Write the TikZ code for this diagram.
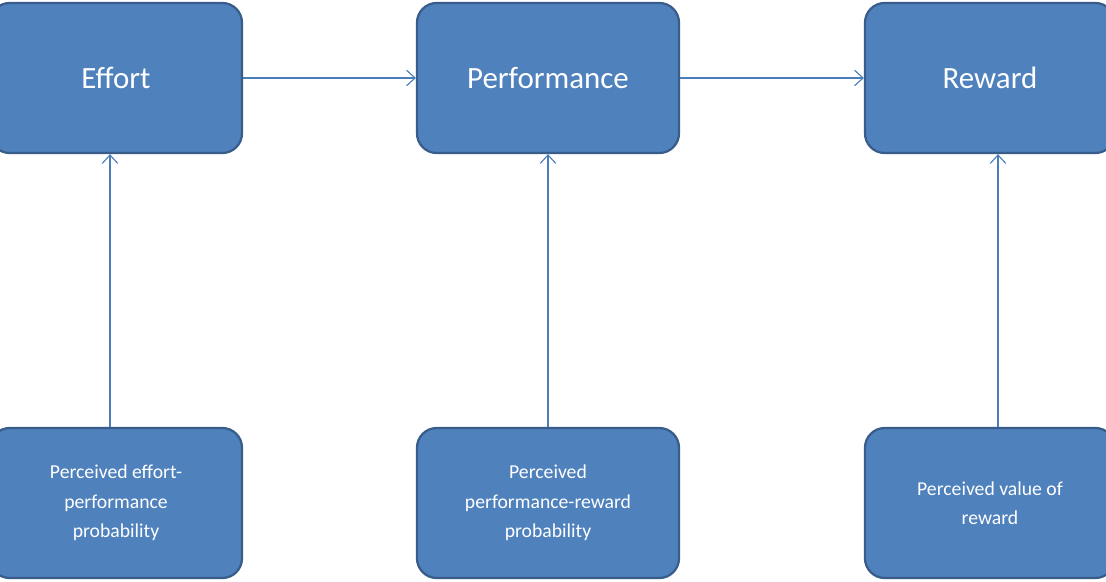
\documentclass[tikz,border=0pt]{standalone}
\usepackage{fontspec}
\setmainfont{Carlito}
\usetikzlibrary{arrows.meta}
\definecolor{boxfill}{HTML}{4F81BD}
\definecolor{boxline}{HTML}{385D8A}
\definecolor{arrowline}{HTML}{4A7EBB}
\begin{document}
\begin{tikzpicture}[x=0.025cm, y=-0.025cm,
  box/.style = {draw=boxline, line width=1.6pt, fill=boxfill, rounded corners=14pt,
                text=white, minimum height=150*0.025cm, align=center},
  big/.style = {box, font=\fontsize{22}{26}\selectfont},
  small/.style = {box, font=\fontsize{14}{21}\selectfont},
  link/.style = {draw=arrowline, line width=0.8pt, -{Straight Barb[length=6pt,width=11pt]}}]
\useasboundingbox (0,0) rectangle (1106,581);
\clip (0,0) rectangle (1106,581);
% top row
\node [big, minimum width=252*0.025cm] (effort) at (116,78) {Effort};
\node [big, minimum width=262*0.025cm] (perf) at (548,78) {Performance};
\node [big, minimum width=250*0.025cm] (reward) at (990,78) {Reward};
% bottom row
\node [small, minimum width=252*0.025cm] (pep) at (116,503) {Perceived effort-\\performance\\probability};
\node [small, minimum width=262*0.025cm] (ppr) at (548,503) {Perceived\\performance-reward\\probability};
\node [small, minimum width=250*0.025cm] (pvr) at (990,503) {Perceived value of\\reward};
% arrows
\draw [link] (effort.east) -- (perf.west);
\draw [link] (perf.east) -- (reward.west);
\draw [link] (pep.north -| 110,0) -- (effort.south -| 110,0);
\draw [link] (ppr.north) -- (perf.south);
\draw [link] (pvr.north -| 998,0) -- (reward.south -| 998,0);
\end{tikzpicture}
\end{document}
